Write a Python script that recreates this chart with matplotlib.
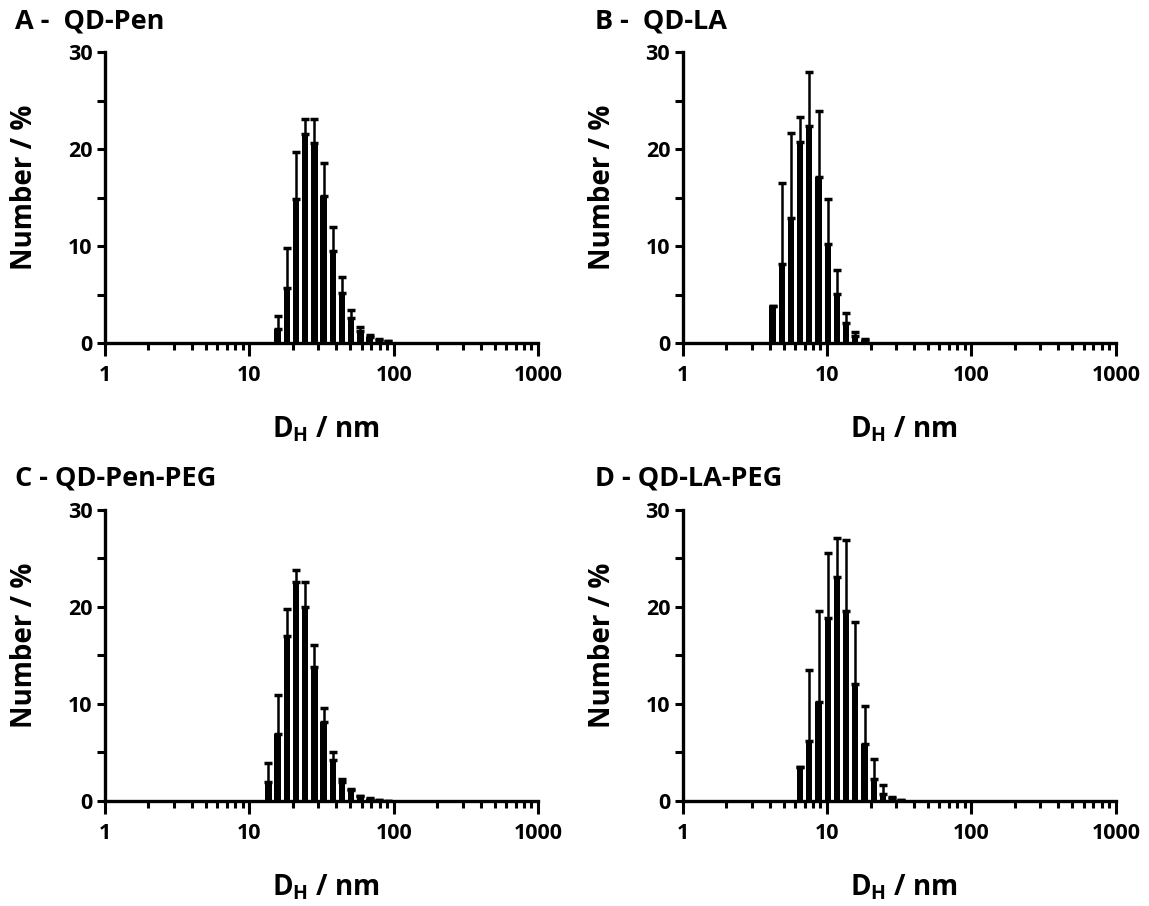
import numpy as np
import matplotlib.pyplot as plt
from matplotlib.ticker import FixedLocator, NullFormatter

plt.rcParams['font.family'] = ['Open Sans', 'DejaVu Sans']
plt.rcParams['font.weight'] = 'bold'
plt.rcParams['mathtext.fontset'] = 'custom'
plt.rcParams['mathtext.bf'] = 'Open Sans:bold'
plt.rcParams['mathtext.rm'] = 'Open Sans:bold'

# size classes of the DLS instrument (70 log-spaced bins, 0.4 - 10000 nm)
sizes = 0.4 * 25000 ** (np.arange(70) / 69)

# panel data: first bin index, mean number %, top of error bar
A_start = 25
A_vals = [1.4, 5.7, 14.8, 21.5, 20.6, 15.2, 9.5, 5.2, 2.6, 1.2, 0.65, 0.35, 0.2]
A_top = [2.75, 9.8, 19.7, 23.1, 23.1, 18.6, 12.0, 6.8, 3.4, 1.65, 0.8, 0.45, 0.25]

B_start = 16
B_vals = [3.8, 8.1, 12.9, 20.7, 22.4, 17.1, 10.2, 5.1, 2.1, 0.7, 0.35]
B_top = [3.8, 16.5, 21.6, 23.3, 27.9, 23.9, 14.8, 7.5, 3.1, 1.1, 0.4]

C_start = 24
C_vals = [2.0, 6.9, 17.0, 22.6, 20.0, 13.8, 8.1, 4.2, 2.0, 1.1, 0.5, 0.25, 0.1, 0.05]
C_top = [3.9, 10.9, 19.8, 23.8, 22.6, 16.1, 9.6, 5.0, 2.3, 1.2, 0.55, 0.3, 0.12, 0.05]

D_start = 19
D_vals = [3.5, 6.2, 10.2, 18.9, 23.1, 19.6, 12.1, 5.9, 2.3, 0.7, 0.3, 0.1]
D_top = [3.5, 13.5, 19.6, 25.6, 27.1, 26.9, 18.5, 9.8, 4.3, 1.6, 0.45, 0.1]

titles = ['A -  QD-Pen', 'B -  QD-LA', 'C - QD-Pen-PEG', 'D - QD-LA-PEG']
panels = [(A_start, A_vals, A_top), (B_start, B_vals, B_top),
          (C_start, C_vals, C_top), (D_start, D_vals, D_top)]

fig = plt.figure(figsize=(11.49, 9.06), dpi=100)

# axes boxes in figure fraction
boxes = [(0.0914, 0.6214), (0.5942, 0.6214), (0.0914, 0.1159), (0.5942, 0.1159)]
title_pos = [(0.013, 0.976), (0.518, 0.976), (0.013, 0.472), (0.518, 0.472)]
w, h = 0.3769, 0.3212
step = np.log10(sizes[1] / sizes[0])

for (start, vals, top), (l, b), title, tp in zip(panels, boxes, titles, title_pos):
    ax = fig.add_axes([l, b, w, h])
    centers = sizes[start:start + len(vals)]
    left = centers * 10 ** (-step * 0.34)
    right = centers * 10 ** (step * 0.34)
    vals = np.array(vals)
    err = np.array(top) - vals
    ax.errorbar(centers, vals, yerr=[np.zeros_like(err), err], fmt='none',
                ecolor='black', elinewidth=1.8, capsize=3.2, capthick=2.5, zorder=2)
    ax.bar(left, vals, width=right - left, align='edge', color='black', zorder=3)

    ax.set_xscale('log')
    ax.set_xlim(1, 1000)
    ax.set_ylim(0, 30)
    ax.set_yticks([0, 10, 20, 30])
    ax.yaxis.set_minor_locator(FixedLocator([5, 15, 25]))
    ax.set_xticks([1, 10, 100, 1000])
    ax.set_xticklabels(['1', '10', '100', '1000'])
    minors = [m * 10 ** d for d in range(3) for m in range(2, 10)]
    ax.xaxis.set_minor_locator(FixedLocator(minors))
    ax.xaxis.set_minor_formatter(NullFormatter())

    for s in ['top', 'right']:
        ax.spines[s].set_visible(False)
    for s in ['left', 'bottom']:
        ax.spines[s].set_linewidth(2.4)
    ax.tick_params(axis='both', which='major', width=2.2, labelsize=15.5)
    ax.tick_params(axis='x', which='major', length=9, pad=7)
    ax.tick_params(axis='y', which='major', length=6, pad=3)
    ax.tick_params(axis='x', which='minor', length=5, width=2.2)
    ax.tick_params(axis='y', which='minor', length=6, width=2.2)
    for lab in ax.get_xticklabels() + ax.get_yticklabels():
        lab.set_fontweight('bold')

    ax.set_ylabel('Number / %', fontsize=20, fontweight='bold')
    ax.yaxis.set_label_coords(-0.152, 0.535)
    ax.set_xlabel(r'D$_{\mathbf{H}}$ / nm', fontsize=20, fontweight='bold')
    ax.xaxis.set_label_coords(0.51, -0.245)
    fig.text(tp[0], tp[1], title, fontsize=19.5, fontweight='bold', va='center', ha='left')

plt.savefig('out.png', dpi=100)
